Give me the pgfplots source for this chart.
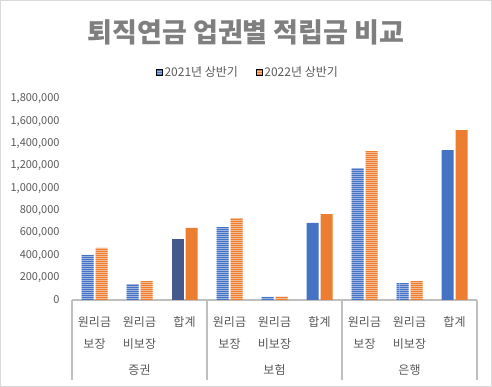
\documentclass[border=0pt]{standalone}
\usepackage{fontspec}
\setmainfont{Noto Sans CJK KR}
\usepackage{pgfplots}
\pgfplotsset{compat=1.18}
\usetikzlibrary{patterns.meta}
\definecolor{cA}{HTML}{4472C4}
\definecolor{cB}{HTML}{ED7D31}
\definecolor{cD}{HTML}{44598C}
\definecolor{grid}{HTML}{BFBFBF}
\definecolor{txt}{HTML}{595959}
\definecolor{ttl}{HTML}{7F7F7F}
\pgfdeclarepattern{
  name=hstripes,
  type=uncolored,
  bottom left={\pgfpoint{0pt}{0pt}},
  top right={\pgfpoint{200pt}{2.2pt}},
  tile size={\pgfpoint{200pt}{2.2pt}},
  code={\pgfpathrectangle{\pgfpoint{0pt}{0pt}}{\pgfpoint{200pt}{1.45pt}}\pgfusepath{fill}}
}
\begin{document}
\begin{tikzpicture}
\useasboundingbox (0,0) rectangle (492pt,387pt);
\draw[draw=black!15, line width=1pt] (0.5pt,0.5pt) rectangle (491.5pt,386.5pt);
\node[font=\fontsize{27}{30}\selectfont\bfseries, text=ttl] at (246pt,355pt) {퇴직연금 업권별 적립금 비교};
\begin{axis}[
  at={(72pt,87pt)}, anchor=south west,
  scale only axis, width=405pt, height=201pt,
  xmin=-0.5, xmax=8.5, ymin=0, ymax=1800000,
  ytick distance=200000,
  scaled y ticks=false,
  yticklabel style={/pgf/number format/fixed, /pgf/number format/1000 sep={,}, /pgf/number format/assume math mode=true,
    font=\fontsize{11}{13}\selectfont, text=txt, xshift=-9pt},
  xtick={0,...,8},
  xticklabels={{원리금\\보장},{원리금\\비보장},합계,{원리금\\보장},{원리금\\비보장},합계,{원리금\\보장},{원리금\\비보장},합계},
  x tick label style={align=center, font=\fontsize{12}{22}\selectfont, text=txt, anchor=north, yshift=-13pt},
  major tick length=0pt,
  axis x line*=bottom, axis y line*=left,
  x axis line style={draw=grid, line width=1.5pt, -},
  y axis line style={draw=none},
  clip=false,
  bar width=12pt,
  legend style={at={(0.4346,1.134)}, anchor=center, draw=none, fill=none,
    legend columns=2, font=\fontsize{12}{14}\selectfont, text=txt,
    /tikz/every even column/.append style={column sep=16pt}},
  legend image code/.code={\fill[#1] (0pt,-3pt) rectangle (6pt,3pt);},
]
\addlegendimage{preaction={fill=cA!45!white}, pattern=hstripes, pattern color=cA}
\addlegendentry{2021년 상반기}
\addlegendimage{preaction={fill=cB!45!white}, pattern=hstripes, pattern color=cB}
\addlegendentry{2022년 상반기}
% 2021 striped
\addplot[ybar, bar shift=-7pt, draw=none, preaction={fill=cA!45!white}, pattern=hstripes, pattern color=cA, forget plot]
  coordinates {(0,403000) (1,143000) (3,653000) (4,28000) (6,1180000) (7,152000)};
% 2022 striped
\addplot[ybar, bar shift=7pt, draw=none, preaction={fill=cB!45!white}, pattern=hstripes, pattern color=cB, forget plot]
  coordinates {(0,466000) (1,170000) (3,734000) (4,30000) (6,1334000) (7,170000)};
% 2021 totals
\addplot[ybar, bar shift=-7pt, draw=none, fill=cD, forget plot]
  coordinates {(2,546000)};
\addplot[ybar, bar shift=-7pt, draw=none, fill=cA, forget plot]
  coordinates {(5,690000) (8,1343000)};
% 2022 totals
\addplot[ybar, bar shift=7pt, draw=none, fill=cB, forget plot]
  coordinates {(2,645000) (5,770000) (8,1522000)};
% group separators and names
\draw[grid, line width=1.5pt] (axis cs:-0.5,0) -- ([yshift=-80pt]axis cs:-0.5,0);
\draw[grid, line width=1.5pt] (axis cs:2.5,0) -- ([yshift=-80pt]axis cs:2.5,0);
\draw[grid, line width=1.5pt] (axis cs:5.5,0) -- ([yshift=-80pt]axis cs:5.5,0);
\draw[grid, line width=1.5pt] (axis cs:8.5,0) -- ([yshift=-80pt]axis cs:8.5,0);
\node[font=\fontsize{12}{14}\selectfont, text=txt] at ([yshift=-70pt]axis cs:1,0) {증권};
\node[font=\fontsize{12}{14}\selectfont, text=txt] at ([yshift=-70pt]axis cs:4,0) {보험};
\node[font=\fontsize{12}{14}\selectfont, text=txt] at ([yshift=-70pt]axis cs:7,0) {은행};
\end{axis}
\end{tikzpicture}
\end{document}
